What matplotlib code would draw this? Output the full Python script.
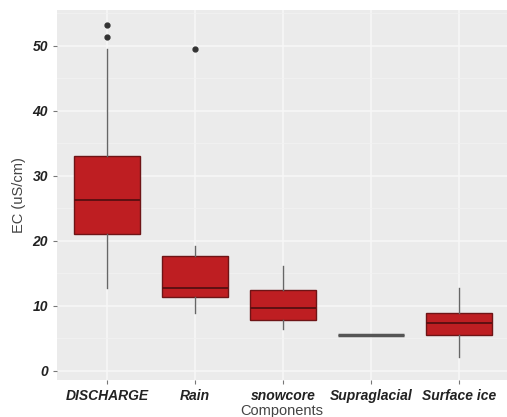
import matplotlib
matplotlib.use("Agg")
import matplotlib.pyplot as plt
import numpy as np

plt.rcParams["font.family"] = ["Liberation Sans", "DejaVu Sans"]

# summary stats
components = ["DISCHARGE", "Rain", "snowcore", "Supraglacial", "Surface ice"]
whislo = [12.8, 8.9, 6.5, 5.5, 2.2]
q1 = [21.1, 11.4, 7.8, 5.5, 5.5]
med = [26.3, 12.8, 9.7, 5.5, 7.4]
q3 = [33.1, 17.7, 12.5, 5.5, 8.9]
whishi = [49.5, 19.2, 16.2, 5.5, 12.8]
fliers = [[51.4, 53.2], [49.5], [], [], []]

stats = []
for i, name in enumerate(components):
    stats.append(dict(label=name, whislo=whislo[i], q1=q1[i], med=med[i],
                      q3=q3[i], whishi=whishi[i], fliers=fliers[i]))

fig = plt.figure(figsize=(5.07, 4.17), dpi=100)
ax = fig.add_axes([57 / 507, 37 / 417, 450 / 507, 370 / 417])
ax.set_facecolor("#EBEBEB")

pos = np.arange(1, len(components) + 1)
bp = ax.bxp(stats, positions=pos, widths=0.75, patch_artist=True, showcaps=False,
            boxprops=dict(facecolor="#BE1E22", edgecolor="#6E1416", linewidth=1.0),
            medianprops=dict(color="#5E1012", linewidth=1.4),
            whiskerprops=dict(color="#666666", linewidth=1.0),
            flierprops=dict(marker="o", markerfacecolor="#333333",
                            markeredgecolor="#333333", markersize=3.5),
            zorder=3)

# the flat Supraglacial box shows up as a grey bar
bp["boxes"][3].set_edgecolor("#555555")
bp["medians"][3].set_color("#555555")
bp["medians"][3].set_linewidth(2.5)

ax.set_xlim(0.432, 5.545)
ax.set_ylim(-1.4, 55.5)
ax.set_yticks([0, 10, 20, 30, 40, 50])
ax.set_yticks([5, 15, 25, 35, 45, 55], minor=True)
ax.set_xticks(pos)
ax.set_xticklabels(components)

ax.grid(which="major", color="#F7F7F7", linewidth=1.1, zorder=0)
ax.grid(which="minor", axis="y", color="#F2F2F2", linewidth=0.6, zorder=0)
ax.set_axisbelow(True)
for s in ax.spines.values():
    s.set_visible(False)

ax.tick_params(axis="both", which="major", length=3, color="#777777",
               labelsize=10, labelcolor="#222222")
ax.tick_params(which="minor", length=0)
for lab in ax.get_xticklabels() + ax.get_yticklabels():
    lab.set_fontstyle("italic")
    lab.set_fontweight("bold")

ax.set_xlabel("Components", fontsize=10.5, color="#444444", labelpad=1)
ax.set_ylabel("EC (uS/cm)", fontsize=10.5, color="#444444", labelpad=5)

fig.savefig("out.png", dpi=100)
